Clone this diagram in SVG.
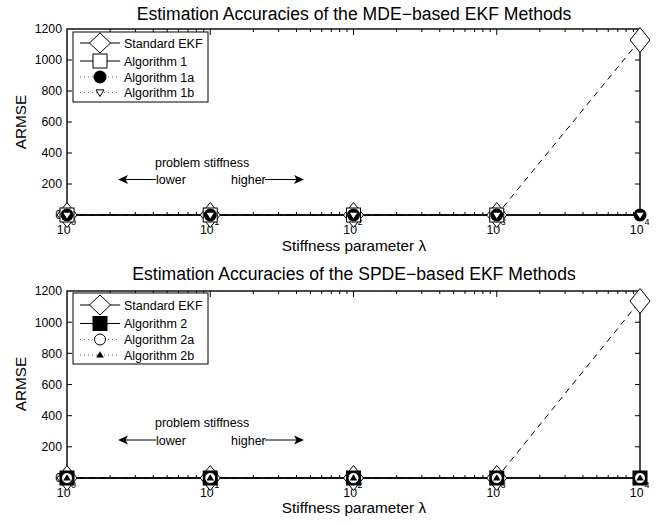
<svg xmlns="http://www.w3.org/2000/svg" xmlns:xlink="http://www.w3.org/1999/xlink" width="670" height="525" viewBox="0 0 670 525">
<style>
text{font-family:"Liberation Sans",Arial,sans-serif;fill:#000}
.title{font-size:17.6px;text-anchor:middle}
.xl{font-size:15.3px;text-anchor:middle}
.tk{font-size:12.3px}
.tr{text-anchor:end}
.ex{font-size:9px}
.lg{font-size:12.5px}
.ax{fill:none;stroke:#000;stroke-width:1.4}
.tick{fill:none;stroke:#000;stroke-width:1}
.sol{fill:none;stroke:#000;stroke-width:1.7}
.lsol{fill:none;stroke:#000;stroke-width:1.2}
.dash{fill:none;stroke:#000;stroke-width:1;stroke-dasharray:6,5}
.dot{fill:none;stroke:#777;stroke-width:1;stroke-dasharray:1,3}
.arr{fill:none;stroke:#000;stroke-width:1}
</style>
<defs>
<path id="dia" d="M0,-12.5 L10,0 L0,12.5 L-10,0 Z" fill="#fff" stroke="#000" stroke-width="1"/>
<path id="ldia" d="M0,-10 L10.5,0 L0,10 L-10.5,0 Z" fill="#fff" stroke="#000" stroke-width="1"/>
<rect id="sqO" x="-7" y="-7" width="14" height="14" fill="#fff" stroke="#000" stroke-width="1"/>
<circle id="cF" r="6.5" fill="#000"/>
<path id="tDw" d="M-3.6,-2.2 L3.6,-2.2 L0,3.6 Z" fill="#fff"/>
<path id="ltDw" d="M-4,-2.6 L4,-2.6 L0,4 Z" fill="#fff" stroke="#000" stroke-width="1"/>
<rect id="sqF" x="-7.5" y="-7.5" width="15" height="15" fill="#000"/>
<circle id="cO" r="5.5" fill="#fff" stroke="#000" stroke-width="1"/>
<path id="tUp" d="M-3.8,2.6 L3.8,2.6 L0,-3.8 Z" fill="#000"/>
<path id="ahL" d="M0,0 L10,-4.5 L7.5,0 L10,4.5 Z" fill="#000"/>
<path id="ahR" d="M0,0 L-10,-4.5 L-7.5,0 L-10,4.5 Z" fill="#000"/>
</defs>

<!-- ================= TOP PLOT ================= -->
<g id="plot1">
<text class="title" x="354" y="19.5">Estimation Accuracies of the MDE−based EKF Methods</text>
<text class="xl" transform="translate(26,122) rotate(-90)">ARMSE</text>
<text class="xl" x="354" y="250.5">Stiffness parameter λ</text>
<g id="axes1">
<rect class="ax" x="67" y="29" width="573" height="186"/>
<path class="tick" d="M67,184H72M67,153H72M67,122H72M67,91H72M67,60H72M640,184H635M640,153H635M640,122H635M640,91H635M640,60H635"/>
<path class="tick" d="M210.25,215v-6M353.5,215v-6M496.75,215v-6M210.25,29v6M353.5,29v6M496.75,29v6
M110.12,215v-3M135.35,215v-3M153.25,215v-3M167.13,215v-3M178.47,215v-3M188.06,215v-3M196.37,215v-3M203.7,215v-3
M253.37,215v-3M278.6,215v-3M296.5,215v-3M310.38,215v-3M321.72,215v-3M331.31,215v-3M339.62,215v-3M346.95,215v-3
M396.62,215v-3M421.85,215v-3M439.75,215v-3M453.63,215v-3M464.97,215v-3M474.56,215v-3M482.87,215v-3M490.2,215v-3
M539.87,215v-3M565.1,215v-3M583,215v-3M596.88,215v-3M608.22,215v-3M617.81,215v-3M626.12,215v-3M633.45,215v-3
M110.12,29v3M135.35,29v3M153.25,29v3M167.13,29v3M178.47,29v3M188.06,29v3M196.37,29v3M203.7,29v3
M253.37,29v3M278.6,29v3M296.5,29v3M310.38,29v3M321.72,29v3M331.31,29v3M339.62,29v3M346.95,29v3
M396.62,29v3M421.85,29v3M439.75,29v3M453.63,29v3M464.97,29v3M474.56,29v3M482.87,29v3M490.2,29v3
M539.87,29v3M565.1,29v3M583,29v3M596.88,29v3M608.22,29v3M617.81,29v3M626.12,29v3M633.45,29v3"/>
<g class="tk tr">
<text x="62" y="33.4">1200</text>
<text x="62" y="64.4">1000</text>
<text x="62" y="95.4">800</text>
<text x="62" y="126.4">600</text>
<text x="62" y="157.4">400</text>
<text x="62" y="188.4">200</text>
<text x="62" y="219.4">0</text>
</g>
<g class="tk">
<text class="tr" x="70.5" y="234">10</text><text class="ex" x="71" y="225">0</text>
<text class="tr" x="213.7" y="234">10</text><text class="ex" x="214.3" y="225">1</text>
<text class="tr" x="357" y="234">10</text><text class="ex" x="357.5" y="225">2</text>
<text class="tr" x="500.2" y="234">10</text><text class="ex" x="500.8" y="225">3</text>
<text class="tr" x="643.5" y="234">10</text><text class="ex" x="644.5" y="225">4</text>
</g>
</g>
<g id="connectors1">
<path class="dash" d="M67,215 L496.75,215 L640,40"/>
<path class="sol" d="M67,215 H640"/>
</g>
<g id="ekf1">
<use href="#dia" x="67" y="215"/><use href="#dia" x="210.25" y="215"/><use href="#dia" x="353.5" y="215"/><use href="#dia" x="496.75" y="215"/><use href="#dia" x="640" y="40"/>
</g>
<g id="alg1">
<use href="#sqO" x="67" y="215"/><use href="#sqO" x="210.25" y="215"/><use href="#sqO" x="353.5" y="215"/><use href="#sqO" x="496.75" y="215"/>
</g>
<g id="alg1a">
<use href="#cF" x="67" y="215"/><use href="#cF" x="210.25" y="215"/><use href="#cF" x="353.5" y="215"/><use href="#cF" x="496.75" y="215"/><use href="#cF" x="640" y="215"/>
</g>
<g id="alg1b">
<use href="#tDw" x="67" y="215"/><use href="#tDw" x="210.25" y="215"/><use href="#tDw" x="353.5" y="215"/><use href="#tDw" x="496.75" y="215"/><use href="#tDw" x="640" y="215"/>
</g>
<g id="annot1">
<text class="lg" x="155" y="166.5">problem stiffness</text>
<text class="lg" x="156" y="184">lower</text>
<text class="lg" x="231" y="184">higher</text>
<path class="arr" d="M124,179.5H156M265,179.5H298"/>
<use href="#ahL" x="118" y="179.5"/>
<use href="#ahR" x="304" y="179.5"/>
</g>
<g id="legend1">
<rect x="73" y="32" width="135" height="70" fill="#fff" stroke="#000" stroke-width="1"/>
<path class="lsol" d="M80,43H120M80,61H120"/>
<path class="dot" d="M80,77H120M80,92.5H120"/>
<use href="#ldia" x="100" y="43"/>
<use href="#sqO" x="100" y="61"/>
<use href="#cF" x="100" y="77"/>
<use href="#ltDw" x="100" y="92.5"/>
<text class="lg" x="124" y="47.5">Standard EKF</text>
<text class="lg" x="124" y="65.5">Algorithm 1</text>
<text class="lg" x="124" y="81.5">Algorithm 1a</text>
<text class="lg" x="124" y="97">Algorithm 1b</text>
</g>
</g>

<!-- ================= BOTTOM PLOT ================= -->
<g id="plot2">
<text class="title" x="354" y="280">Estimation Accuracies of the SPDE−based EKF Methods</text>
<text class="xl" transform="translate(26,384) rotate(-90)">ARMSE</text>
<text class="xl" x="354" y="513">Stiffness parameter λ</text>
<g id="axes2">
<rect class="ax" x="67" y="291" width="573" height="187"/>
<path class="tick" d="M67,446.8H72M67,415.7H72M67,384.5H72M67,353.3H72M67,322.2H72M640,446.8H635M640,415.7H635M640,384.5H635M640,353.3H635M640,322.2H635"/>
<path class="tick" d="M210.25,478v-6M353.5,478v-6M496.75,478v-6M210.25,291v6M353.5,291v6M496.75,291v6
M110.12,478v-3M135.35,478v-3M153.25,478v-3M167.13,478v-3M178.47,478v-3M188.06,478v-3M196.37,478v-3M203.7,478v-3
M253.37,478v-3M278.6,478v-3M296.5,478v-3M310.38,478v-3M321.72,478v-3M331.31,478v-3M339.62,478v-3M346.95,478v-3
M396.62,478v-3M421.85,478v-3M439.75,478v-3M453.63,478v-3M464.97,478v-3M474.56,478v-3M482.87,478v-3M490.2,478v-3
M539.87,478v-3M565.1,478v-3M583,478v-3M596.88,478v-3M608.22,478v-3M617.81,478v-3M626.12,478v-3M633.45,478v-3
M110.12,291v3M135.35,291v3M153.25,291v3M167.13,291v3M178.47,291v3M188.06,291v3M196.37,291v3M203.7,291v3
M253.37,291v3M278.6,291v3M296.5,291v3M310.38,291v3M321.72,291v3M331.31,291v3M339.62,291v3M346.95,291v3
M396.62,291v3M421.85,291v3M439.75,291v3M453.63,291v3M464.97,291v3M474.56,291v3M482.87,291v3M490.2,291v3
M539.87,291v3M565.1,291v3M583,291v3M596.88,291v3M608.22,291v3M617.81,291v3M626.12,291v3M633.45,291v3"/>
<g class="tk tr">
<text x="62" y="295.4">1200</text>
<text x="62" y="326.6">1000</text>
<text x="62" y="357.7">800</text>
<text x="62" y="388.9">600</text>
<text x="62" y="420.1">400</text>
<text x="62" y="451.2">200</text>
<text x="62" y="482.4">0</text>
</g>
<g class="tk">
<text class="tr" x="70.5" y="497">10</text><text class="ex" x="71" y="488">0</text>
<text class="tr" x="213.7" y="497">10</text><text class="ex" x="214.3" y="488">1</text>
<text class="tr" x="357" y="497">10</text><text class="ex" x="357.5" y="488">2</text>
<text class="tr" x="500.2" y="497">10</text><text class="ex" x="500.8" y="488">3</text>
<text class="tr" x="643.5" y="497">10</text><text class="ex" x="644.5" y="488">4</text>
</g>
</g>
<g id="connectors2">
<path class="dash" d="M67,478 L496.75,478 L640,301"/>
<path class="sol" d="M67,478 H640"/>
</g>
<g id="ekf2">
<use href="#dia" x="67" y="478"/><use href="#dia" x="210.25" y="478"/><use href="#dia" x="353.5" y="478"/><use href="#dia" x="496.75" y="478"/><use href="#dia" x="640" y="301"/>
</g>
<g id="alg2">
<use href="#sqF" x="67" y="478"/><use href="#sqF" x="210.25" y="478"/><use href="#sqF" x="353.5" y="478"/><use href="#sqF" x="496.75" y="478"/><use href="#sqF" x="640" y="478"/>
</g>
<g id="alg2a">
<use href="#cO" x="67" y="478"/><use href="#cO" x="210.25" y="478"/><use href="#cO" x="353.5" y="478"/><use href="#cO" x="496.75" y="478"/><use href="#cO" x="640" y="478"/>
</g>
<g id="alg2b">
<use href="#tUp" x="67" y="478"/><use href="#tUp" x="210.25" y="478"/><use href="#tUp" x="353.5" y="478"/><use href="#tUp" x="496.75" y="478"/><use href="#tUp" x="640" y="478"/>
</g>
<g id="annot2">
<text class="lg" x="155" y="427">problem stiffness</text>
<text class="lg" x="156" y="444.5">lower</text>
<text class="lg" x="231" y="444.5">higher</text>
<path class="arr" d="M124,440H156M265,440H298"/>
<use href="#ahL" x="118" y="440"/>
<use href="#ahR" x="304" y="440"/>
</g>
<g id="legend2">
<rect x="73" y="293" width="135" height="71" fill="#fff" stroke="#000" stroke-width="1"/>
<path class="lsol" d="M80,305H120M80,323.5H120"/>
<path class="dot" d="M80,339.5H120M80,355H120"/>
<use href="#ldia" x="100" y="305"/>
<use href="#sqF" x="100" y="323.5"/>
<use href="#cO" x="100" y="339.5"/>
<use href="#tUp" x="100" y="355"/>
<text class="lg" x="124" y="309.5">Standard EKF</text>
<text class="lg" x="124" y="328">Algorithm 2</text>
<text class="lg" x="124" y="344">Algorithm 2a</text>
<text class="lg" x="124" y="359.5">Algorithm 2b</text>
</g>
</g>
</svg>
